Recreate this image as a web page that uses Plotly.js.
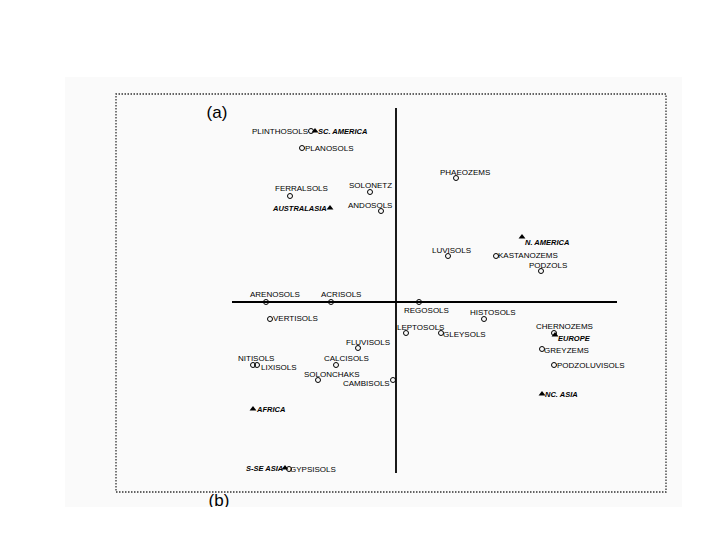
<!DOCTYPE html>
<html>
<head>
<meta charset="utf-8">
<script src="https://cdn.plot.ly/plotly-3.0.1.min.js"></script>
<style>html,body{margin:0;padding:0;background:#fff;}#chart{width:720px;height:540px;}</style>
</head>
<body>
<div id="chart"></div>
<script>
// Soil groups (open circles): ordination scores on axis 1 and axis 2
const soilNames = ['PLINTHOSOLS','PLANOSOLS','FERRALSOLS','SOLONETZ','ANDOSOLS','PHAEOZEMS',
  'LUVISOLS','KASTANOZEMS','PODZOLS','ARENOSOLS','ACRISOLS','REGOSOLS','VERTISOLS','HISTOSOLS',
  'LEPTOSOLS','GLEYSOLS','CHERNOZEMS','GREYZEMS','FLUVISOLS','NITISOLS','LIXISOLS','CALCISOLS',
  'PODZOLUVISOLS','SOLONCHAKS','CAMBISOLS','GYPSISOLS'];
const soilAxis1 = [-0.85,-0.94,-1.06,-0.26,-0.15,0.60,
  0.52,1.00,1.45,-1.30,-0.65,0.23,-1.26,0.88,
  0.10,0.45,1.58,1.46,-0.38,-1.43,-1.39,-0.60,
  1.58,-0.78,-0.03,-1.07];
const soilAxis2 = [1.71,1.54,1.06,1.10,0.91,1.24,
  0.46,0.46,0.31,0.00,0.00,0.00,-0.17,-0.17,
  -0.31,-0.31,-0.31,-0.47,-0.46,-0.63,-0.63,-0.63,
  -0.63,-0.78,-0.78,-1.67];

// Regions (filled triangles)
const regionNames = ['SC. AMERICA','AUSTRALASIA','N. AMERICA','EUROPE','NC. ASIA','AFRICA','S-SE ASIA'];
const regionAxis1 = [-0.81,-0.66,1.26,1.59,1.46,-1.43,-1.11];
const regionAxis2 = [1.71,0.94,0.65,-0.33,-0.92,-1.07,-1.66];

// Extent of the drawn ordination axes
const axis1Extent = [-1.64, 2.21];
const axis2Extent = [-1.71, 1.94];

// Panel labels
const panelLabels = ['(a)','(b)'];

// ---- styling: label placement (side, pixel nudge x, pixel nudge y) ----
const soilLabelSide = ['L','R','T','T','T','T','T','R','T','T','T','B','R','T',
  'T','R','T','R','T','T','R','T','R','T','L','R'];
const soilLabelDx = [-3,3,11,0,-11,9,3,2,7,9,10,7,3,9,14,2,10,2,10,3,4,10,3,14,-3,1];
const soilLabelDy = [0,0,8,7,6,6,6,1,6,8,8,-8,1,7,6,-1,7,-1,6,7,-2,7,0,6,-3,0];
const regionLabelSide = ['R','L','R','R','R','R','L'];
const regionLabelDx = [3,-3,3,3,3,3,-2];
const regionLabelDy = [0,0,-5,-3,0,0,0];

const FONT = 'Liberation Sans, Arial, sans-serif';

function makeLabel(x, y, text, side, dx, dy, font) {
  return {
    x: x, y: y, xref: 'x', yref: 'y', text: text, showarrow: false,
    xanchor: side === 'L' ? 'right' : (side === 'R' ? 'left' : 'center'),
    yanchor: 'middle', xshift: dx, yshift: dy,
    borderpad: 0, borderwidth: 0, font: font
  };
}

const annotations = [];
soilNames.forEach((n, i) => annotations.push(makeLabel(soilAxis1[i], soilAxis2[i], n,
  soilLabelSide[i], soilLabelDx[i], soilLabelDy[i], {family: FONT, size: 8, color: '#000'})));
regionNames.forEach((n, i) => annotations.push(makeLabel(regionAxis1[i], regionAxis2[i], '<b><i>' + n + '</i></b>',
  regionLabelSide[i], regionLabelDx[i], regionLabelDy[i], {family: FONT, size: 7.5, color: '#000'})));

const traces = [
  {x: axis1Extent, y:[0,0], mode:'lines', line:{color:'#000', width:1.8}, hoverinfo:'skip', showlegend:false},
  {x:[0,0], y: axis2Extent, mode:'lines', line:{color:'#000', width:1.8}, hoverinfo:'skip', showlegend:false},
  {x: soilAxis1, y: soilAxis2, mode:'markers',
   marker:{symbol:'circle-open', size:5, color:'#000', line:{width:1, color:'#000'}},
   showlegend:false, cliponaxis:false},
  {x: regionAxis1, y: regionAxis2, mode:'markers',
   marker:{symbol:'triangle-up', size:6, color:'#000'},
   showlegend:false, cliponaxis:false},
  {x:[-1.79,-1.77], y:[1.88,-2.00], text: panelLabels, mode:'text', textposition:'middle center',
   textfont:{family: FONT, size:17, color:'#000'}, showlegend:false, cliponaxis:true, hoverinfo:'skip'}
];

const layout = {
  width:720, height:540,
  margin:{l:65, r:38, t:77, b:33, pad:0},
  paper_bgcolor:'#ffffff',
  plot_bgcolor:'#fafafa',
  xaxis:{range:[-3.31,2.86], visible:false, showgrid:false, zeroline:false, fixedrange:true},
  yaxis:{range:[-2.05,2.25], visible:false, showgrid:false, zeroline:false, fixedrange:true},
  annotations: annotations,
  shapes:[{type:'rect', xref:'x', yref:'y', x0:-2.80, x1:2.70, y0:-1.90, y1:2.08,
    line:{color:'#333', width:1.3, dash:'1.5px,1.5px'}, fillcolor:'rgba(0,0,0,0)', layer:'below'}]
};

Plotly.newPlot('chart', traces, layout, {displayModeBar:false, staticPlot:true});
</script>
</body>
</html>
